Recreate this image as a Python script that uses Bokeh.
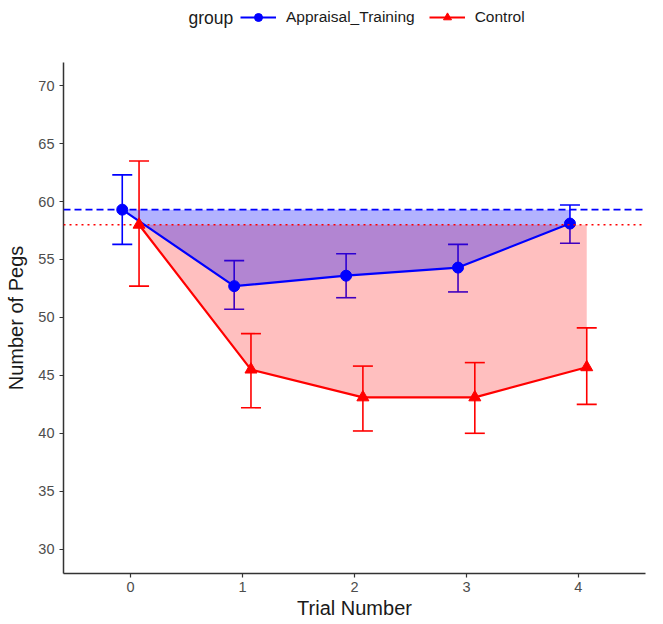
from bokeh.plotting import figure
from bokeh.layouts import column
from bokeh.models import (Range1d, Legend, LegendItem, Whisker, TeeHead,
                          ColumnDataSource, FixedTicker, Span, Label)
from bokeh.embed import file_html
from bokeh.resources import INLINE

trials = [0, 1, 2, 3, 4]
appraisal_mean = [59.3, 52.7, 53.6, 54.3, 58.1]
appraisal_lower = [56.3, 50.7, 51.7, 52.2, 56.4]
appraisal_upper = [62.3, 54.9, 55.5, 56.3, 59.7]
control_mean = [58.0, 45.5, 43.1, 43.1, 45.7]
control_lower = [52.7, 42.2, 40.2, 40.0, 42.5]
control_upper = [63.5, 48.6, 45.8, 46.1, 49.1]
group_names = ["Appraisal_Training", "Control"]
x_ticks = [0, 1, 2, 3, 4]
y_ticks = [30, 35, 40, 45, 50, 55, 60, 65, 70]

DODGE = 0.075
FONT = "Liberation Sans"
TOP_H = 40

src_a = ColumnDataSource(dict(
    x=[t - DODGE for t in trials], y=appraisal_mean,
    lo=appraisal_lower, hi=appraisal_upper,
    base=[appraisal_mean[0]] * len(trials)))
src_c = ColumnDataSource(dict(
    x=[t + DODGE for t in trials], y=control_mean,
    lo=control_lower, hi=control_upper,
    base=[control_mean[0]] * len(trials)))

p = figure(width=663, height=624 - TOP_H, output_backend="svg", toolbar_location=None,
           x_range=Range1d(-0.6, 4.6), y_range=Range1d(27.9, 72.0),
           min_border_left=63, min_border_right=18, min_border_top=62 - TOP_H,
           min_border_bottom=51)
p.outline_line_color = None
p.xgrid.visible = False
p.ygrid.visible = False
p.background_fill_color = "white"

# shaded areas
p.varea(x="x", y1="y", y2="base", source=src_c, fill_color="red", fill_alpha=0.25)
p.varea(x="x", y1="y", y2="base", source=src_a, fill_color="blue", fill_alpha=0.3)

# reference lines
p.add_layout(Span(location=appraisal_mean[0], dimension="width",
                  line_color="blue", line_dash="7 4", line_width=1.6))
p.add_layout(Span(location=control_mean[0], dimension="width",
                  line_color="red", line_dash="2 4", line_width=1.4))

# error bars
for src, col in ((src_a, "blue"), (src_c, "red")):
    w = Whisker(source=src, base="x", lower="lo", upper="hi", dimension="height",
                line_color=col, line_width=1.6,
                lower_head=TeeHead(size=20, line_color=col, line_width=1.6),
                upper_head=TeeHead(size=20, line_color=col, line_width=1.6))
    p.add_layout(w)

p.line("x", "y", source=src_a, line_color="blue", line_width=2.2)
p.line("x", "y", source=src_c, line_color="red", line_width=2.2)
p.scatter("x", "y", source=src_a, marker="circle", size=11,
          fill_color="blue", line_color="blue")
p.scatter("x", "y", source=src_c, marker="triangle", size=12,
          fill_color="red", line_color="red")

# axes
for ax in (p.xaxis[0], p.yaxis[0]):
    ax.axis_line_color = "#333333"
    ax.axis_line_width = 1.5
    ax.major_tick_line_color = "#333333"
    ax.major_tick_line_width = 1.2
    ax.major_tick_in = 0
    ax.major_tick_out = 4
    ax.minor_tick_line_color = None
    ax.major_label_text_font = FONT
    ax.major_label_text_font_size = "14.5px"
    ax.major_label_text_color = "#4d4d4d"
    ax.axis_label_text_font = FONT
    ax.axis_label_text_font_size = "20px"
    ax.axis_label_text_font_style = "normal"
    ax.axis_label_text_color = "#1a1a1a"

p.xaxis.major_label_standoff = 4
p.xaxis.axis_label_standoff = 2
p.yaxis.major_label_standoff = 5
p.yaxis.axis_label_standoff = 8

p.xaxis.ticker = FixedTicker(ticks=x_ticks)
p.yaxis.ticker = FixedTicker(ticks=y_ticks)
p.xaxis.axis_label = "Trial Number"
p.yaxis.axis_label = "Number of Pegs"

# legend strip on top (legend proxies are hidden copies of the series)
top = figure(width=663, height=TOP_H, output_backend="svg", toolbar_location=None,
             x_axis_location=None, y_axis_location=None,
             x_range=Range1d(0, 663), y_range=Range1d(0, TOP_H),
             min_border=0, min_border_left=0, min_border_right=0,
             min_border_top=0, min_border_bottom=0)
top.xgrid.visible = False
top.ygrid.visible = False
top.outline_line_color = None

ka = top.line("x", "y", source=src_a, line_color="blue", line_width=2.2, visible=False)
kas = top.scatter("x", "y", source=src_a, marker="circle", size=11,
                  fill_color="blue", line_color="blue", visible=False)
kc = top.line("x", "y", source=src_c, line_color="red", line_width=2.2, visible=False)
kcs = top.scatter("x", "y", source=src_c, marker="triangle", size=12,
                  fill_color="red", line_color="red", visible=False)

legend = Legend(items=[LegendItem(label=group_names[0], renderers=[ka, kas]),
                       LegendItem(label=group_names[1], renderers=[kc, kcs])],
                orientation="horizontal", location=(177, 13),
                border_line_color=None, background_fill_alpha=0,
                label_text_font=FONT, label_text_font_size="15.5px",
                label_text_color="#1a1a1a",
                glyph_width=36, glyph_height=20, label_standoff=10,
                spacing=14, padding=2, margin=0)
top.add_layout(legend, "center")
top.add_layout(Label(x=125, y=TOP_H - 17, x_units="screen", y_units="screen",
                     text="group", text_font=FONT,
                     text_font_size="17.5px", text_color="#1a1a1a",
                     text_baseline="middle"))

layout = column(top, p, spacing=0)
open("out.html", "w").write(file_html(layout, INLINE))
